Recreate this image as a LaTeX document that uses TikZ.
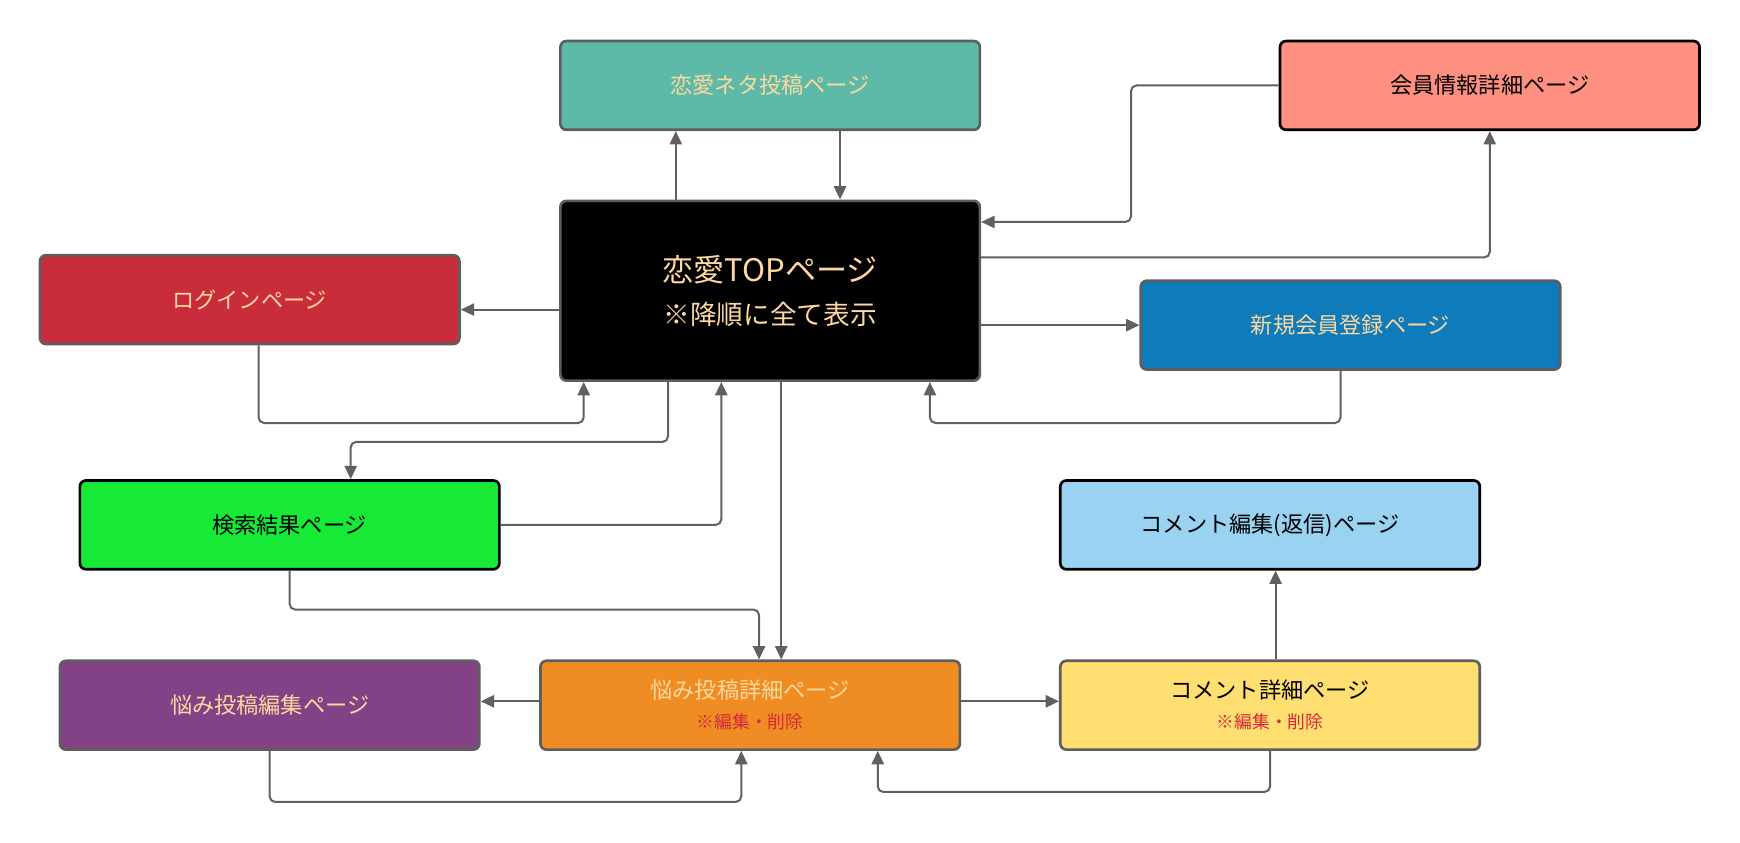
\documentclass[tikz,border=0pt]{standalone}
\usepackage{fontspec}
\setmainfont{Noto Sans CJK JP}
\usetikzlibrary{arrows.meta,calc}
\definecolor{cteal}{HTML}{5DBAA8}
\definecolor{csalmon}{HTML}{FF8F80}
\definecolor{cred}{HTML}{C92C3A}
\definecolor{cblue}{HTML}{0E7BBA}
\definecolor{cgreen}{HTML}{17EA36}
\definecolor{clblue}{HTML}{9AD2F2}
\definecolor{cpurple}{HTML}{834285}
\definecolor{corange}{HTML}{EF8D24}
\definecolor{cyellow}{HTML}{FFDE72}
\definecolor{peach}{HTML}{FFD8A0}
\definecolor{bordergray}{HTML}{5E5E5E}
\definecolor{linegray}{HTML}{606060}
\definecolor{subred}{HTML}{D42A3C}
\begin{document}
\begin{tikzpicture}[x=0.5pt,y=-0.5pt,
  box/.style={draw=bordergray,line width=1.2pt,rounded corners=2.7pt,
    minimum width=189pt,minimum height=40pt,inner sep=0pt,align=center,
    font=\fontsize{10}{13.5}\selectfont},
  darkedge/.style={draw=black},
  light/.style={text=peach},
  dark/.style={text=black},
  arr/.style={draw=linegray,line width=0.9pt,rounded corners=2.5pt,
    -{Triangle[length=6pt,width=5.5pt]}}]
\useasboundingbox (0,0) rectangle (1568,759);

% nodes
\node[box,fill=cteal,light] (neta) at (694,77) {恋愛ネタ投稿ページ};
\node[box,fill=csalmon,darkedge,dark] (kaiin) at (1342.5,77) {会員情報詳細ページ};
\node[box,fill=black,light,minimum height=81pt,font=\fontsize{14}{19.5}\selectfont] (top) at (694,262)
  {恋愛TOPページ\\{\fontsize{12}{19.5}\selectfont ※降順に全て表示}};
\node[box,fill=cred,light] (login) at (225,270) {ログインページ};
\node[box,fill=cblue,light] (shinki) at (1217,293) {新規会員登録ページ};
\node[box,fill=cgreen,darkedge,dark] (kensaku) at (261,473) {検索結果ページ};
\node[box,fill=clblue,darkedge,dark] (cedit) at (1144.5,473) {コメント編集(返信)ページ};
\node[box,fill=cpurple,light] (nedit) at (243,635.5) {悩み投稿編集ページ};
\node[box,fill=corange,light] (ndetail) at (676,635.5)
  {悩み投稿詳細ページ\\{\color{subred}\fontsize{8}{10}\selectfont ※編集・削除}};
\node[box,fill=cyellow,dark] (cdetail) at (1144.5,635.5)
  {コメント詳細ページ\\{\color{subred}\fontsize{8}{10}\selectfont ※編集・削除}};

% connectors
\draw[arr] ($(top.north)+(-85,0)$) coordinate (p1) -- (p1 |- neta.south);
\draw[arr] ($(neta.south)+(63,0)$) coordinate (p2) -- (p2 |- top.north);
\draw[arr] (kaiin.west) -| ($(top.east)+(135,-62)$) -- ($(top.east)+(0,-62)$);
\draw[arr] ($(top.east)+(0,-30)$) -| (kaiin.south);
\draw[arr] ($(top.west)+(0,17)$) coordinate (p5) -- (p5 -| login.east);
\draw[arr] (top.east |- shinki.west) -- (shinki.west);
\draw[arr] ($(shinki.south)+(-9,0)$) |- ($(top.south)+(144,37)$) -- ($(top.south)+(144,0)$);
\draw[arr] ($(login.south)+(8,0)$) |- ($(top.south)+(-168,37)$) -- ($(top.south)+(-168,0)$);
\draw[arr] ($(top.south)+(-92,0)$) -- ($(top.south)+(-92,54)$) -| ($(kensaku.north)+(55,0)$);
\draw[arr] (kensaku.east) -| ($(top.south)+(-44,0)$);
\draw[arr] ($(top.south)+(10,0)$) coordinate (p11) -- (p11 |- ndetail.north);
\draw[arr] (kensaku.south) |- ($(ndetail.north)+(8,-45)$) -- ($(ndetail.north)+(8,0)$);
\draw[arr] (ndetail.west |- 0,632) -- (nedit.east |- 0,632);
\draw[arr] (ndetail.east |- 0,632) -- (cdetail.west |- 0,632);
\draw[arr] ($(cdetail.north)+(5,0)$) coordinate (p15) -- (p15 |- cedit.south);
\draw[arr] (nedit.south) |- ($(ndetail.south)+(-8,46)$) -- ($(ndetail.south)+(-8,0)$);
\draw[arr] (cdetail.south) |- ($(ndetail.south)+(115,37)$) -- ($(ndetail.south)+(115,0)$);
\end{tikzpicture}
\end{document}
